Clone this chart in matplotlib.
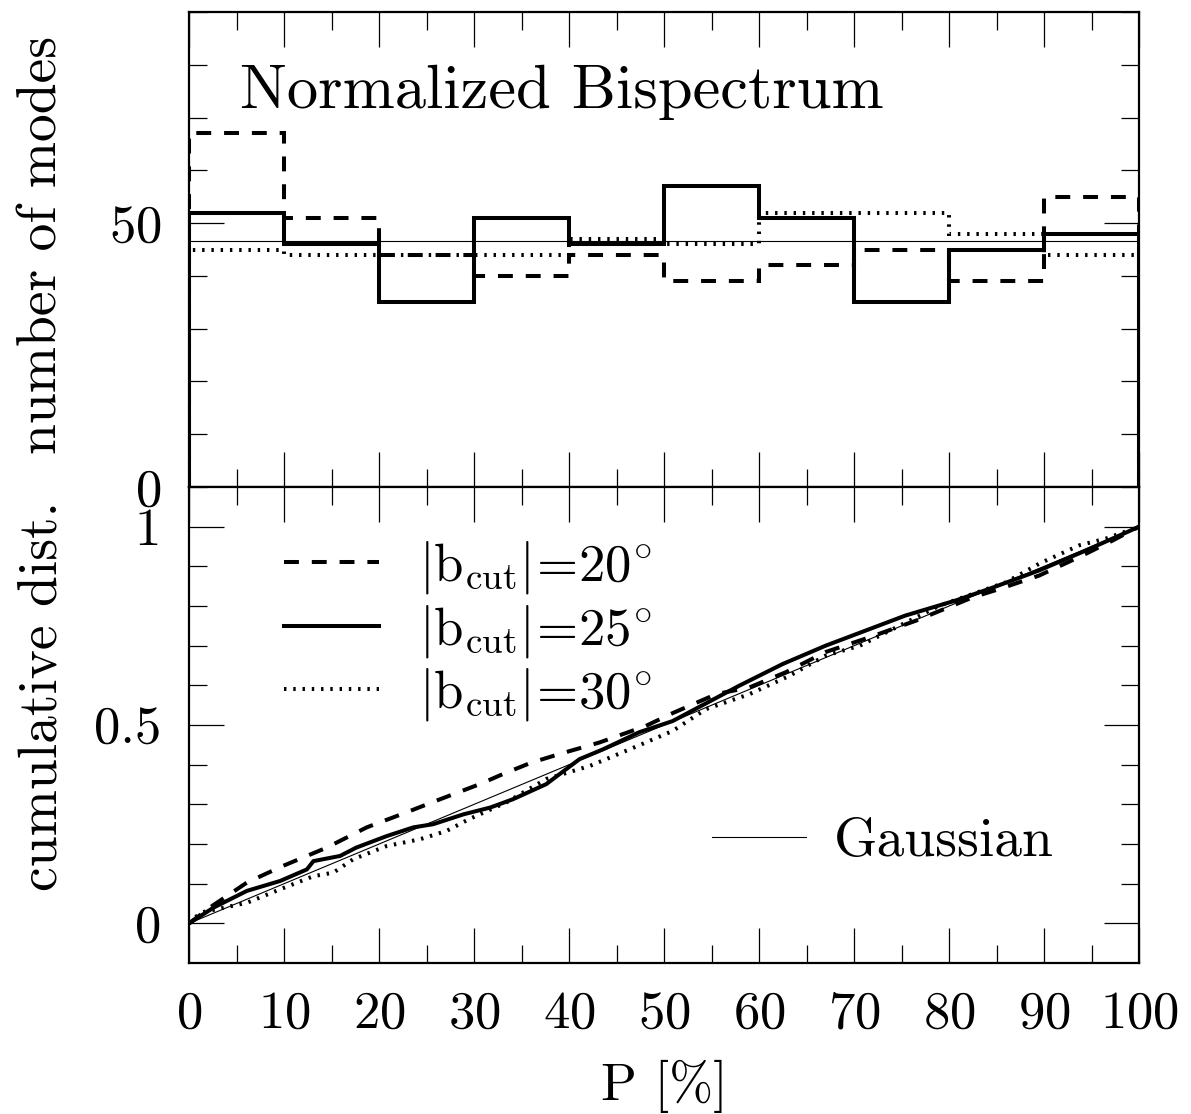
import numpy as np
import matplotlib
matplotlib.use("Agg")
import matplotlib.pyplot as plt

plt.rcParams['font.family'] = ['cmr10', 'DejaVu Serif']
plt.rcParams['mathtext.fontset'] = 'cm'
plt.rcParams['axes.unicode_minus'] = False
plt.rcParams['axes.formatter.use_mathtext'] = True

# top panel: number of modes per 10% bin of P
bin_edges = [0, 10, 20, 30, 40, 50, 60, 70, 80, 90, 100]
modes_20 = [67, 51, 44, 40, 44, 39, 42, 45, 39, 55]
modes_25 = [52, 46, 35, 51, 46, 57, 51, 35, 45, 48]
modes_30 = [45, 44, 44, 44, 47, 46, 52, 52, 48, 44]

# bottom panel: cumulative distributions
p_20 = [0, 2.5, 6.1, 9.9, 14.5, 18.7, 22.9, 26.0, 30.6, 33.0, 36.0, 39.0, 43.2, 48.1, 50.9,
        55.5, 59.0, 62.8, 67.0, 71.6, 76.5, 82.5, 85.3, 89.5, 94.0, 97.2, 100]
c_20 = [0, 0.045, 0.103, 0.145, 0.191, 0.242, 0.280, 0.309, 0.351, 0.376, 0.405, 0.427, 0.456,
        0.498, 0.530, 0.578, 0.595, 0.633, 0.684, 0.721, 0.763, 0.822, 0.843, 0.877, 0.927,
        0.965, 1.0]

p_25 = [0, 2.6, 6.1, 9.6, 12.4, 13.1, 15.9, 17.6, 20.8, 23.6, 25.7, 28.9, 31.7, 34.1, 37.6,
        41.1, 43.6, 47.4, 50.9, 57.9, 62.5, 67.0, 71.2, 75.4, 80.7, 84.2, 89.5, 94.0, 97.2, 100]
c_25 = [0, 0.040, 0.082, 0.107, 0.136, 0.157, 0.170, 0.191, 0.220, 0.242, 0.250, 0.275, 0.292,
        0.313, 0.351, 0.414, 0.439, 0.482, 0.510, 0.599, 0.654, 0.700, 0.738, 0.776, 0.814,
        0.843, 0.890, 0.936, 0.970, 1.0]

p_30 = [0, 1.2, 6.1, 9.6, 13.1, 15.2, 17.3, 20.8, 24.3, 27.1, 29.5, 33.4, 37.6, 42.2, 46.4,
        50.9, 54.4, 59.0, 63.2, 67.0, 70.6, 79.0, 86.0, 89.5, 93.7, 96.5, 100]
c_30 = [0, 0.027, 0.052, 0.086, 0.119, 0.128, 0.162, 0.195, 0.212, 0.233, 0.263, 0.305, 0.364,
        0.397, 0.439, 0.485, 0.540, 0.578, 0.624, 0.675, 0.700, 0.801, 0.860, 0.907, 0.953,
        0.970, 1.0]

gauss_p = [0, 100]
gauss_c = [0, 1]

labels = [r'$|\mathrm{b}_{\mathrm{cut}}|\!=\!20^{\circ}$',
          r'$|\mathrm{b}_{\mathrm{cut}}|\!=\!25^{\circ}$',
          r'$|\mathrm{b}_{\mathrm{cut}}|\!=\!30^{\circ}$']

lw = 2.9
dash = (0, (3.7, 3.2))
dot = (0, (0.6, 1.7))
fs = 38


def style_axis(ax):
    ax.tick_params(which='both', direction='in', top=True, right=True,
                   width=0.9, labelsize=fs, pad=20)
    ax.tick_params(which='major', length=25)
    ax.tick_params(which='minor', length=13)
    for s in ax.spines.values():
        s.set_linewidth(1.6)


def main():
    fig = plt.figure(figsize=(11.91, 11.14), dpi=100)
    ax1 = fig.add_axes([0.1587, 0.5628, 0.7977, 0.4264])
    ax2 = fig.add_axes([0.1587, 0.1355, 0.7977, 0.4273], sharex=ax1)

    # histograms
    ax1.stairs(modes_20, bin_edges, color='k', lw=lw, linestyle=dash)
    ax1.stairs(modes_25, bin_edges, color='k', lw=lw)
    ax1.stairs(modes_30, bin_edges, color='k', lw=lw, linestyle=dot)
    ax1.axhline(np.mean(modes_25), color='k', lw=0.8)
    ax1.set_ylim(0, 90)
    ax1.set_yticks([0, 50])
    ax1.set_yticks(np.arange(0, 91, 10), minor=True)
    ax1.set_ylabel('number of modes', fontsize=40)
    ax1.yaxis.set_label_coords(-0.128, 0.51)
    ax1.text(0.054, 0.798, 'Normalized Bispectrum', transform=ax1.transAxes,
             fontsize=45, va='baseline', ha='left')
    style_axis(ax1)
    plt.setp(ax1.get_xticklabels(), visible=False)

    # cumulative distributions
    l20, = ax2.plot(p_20, c_20, color='k', lw=lw, linestyle=dash)
    l25, = ax2.plot(p_25, c_25, color='k', lw=lw)
    l30, = ax2.plot(p_30, c_30, color='k', lw=lw, linestyle=dot)
    lg, = ax2.plot(gauss_p, gauss_c, color='k', lw=0.8)
    ax2.set_xlim(0, 100)
    ax2.set_ylim(-0.1, 1.1)
    ax2.set_xticks(np.arange(0, 101, 10))
    ax2.set_xticks(np.arange(0, 101, 5), minor=True)
    ax2.set_yticks([0, 0.5, 1])
    ax2.set_yticklabels(['0', '0.5', '1'])
    ax2.set_yticks(np.arange(0, 1.11, 0.1), minor=True)
    ax2.set_xlabel('P [%]', fontsize=fs, labelpad=16)
    ax2.set_ylabel('cumulative dist.', fontsize=40)
    ax2.yaxis.set_label_coords(-0.128, 0.56)
    style_axis(ax2)

    leg1 = ax2.legend([l20, l25, l30], labels, loc='upper left',
                      bbox_to_anchor=(0.1, 0.89), frameon=False, fontsize=fs,
                      handlelength=1.8, handletextpad=0.75, labelspacing=0.12,
                      borderpad=0, borderaxespad=0)
    ax2.add_artist(leg1)
    ax2.legend([lg], ['Gaussian'], loc='center left', bbox_to_anchor=(0.55, 0.254),
               frameon=False, fontsize=40, handlelength=1.7, handletextpad=0.5,
               borderpad=0, borderaxespad=0)

    fig.savefig('out.png', dpi=100)


if __name__ == "__main__":
    main()
